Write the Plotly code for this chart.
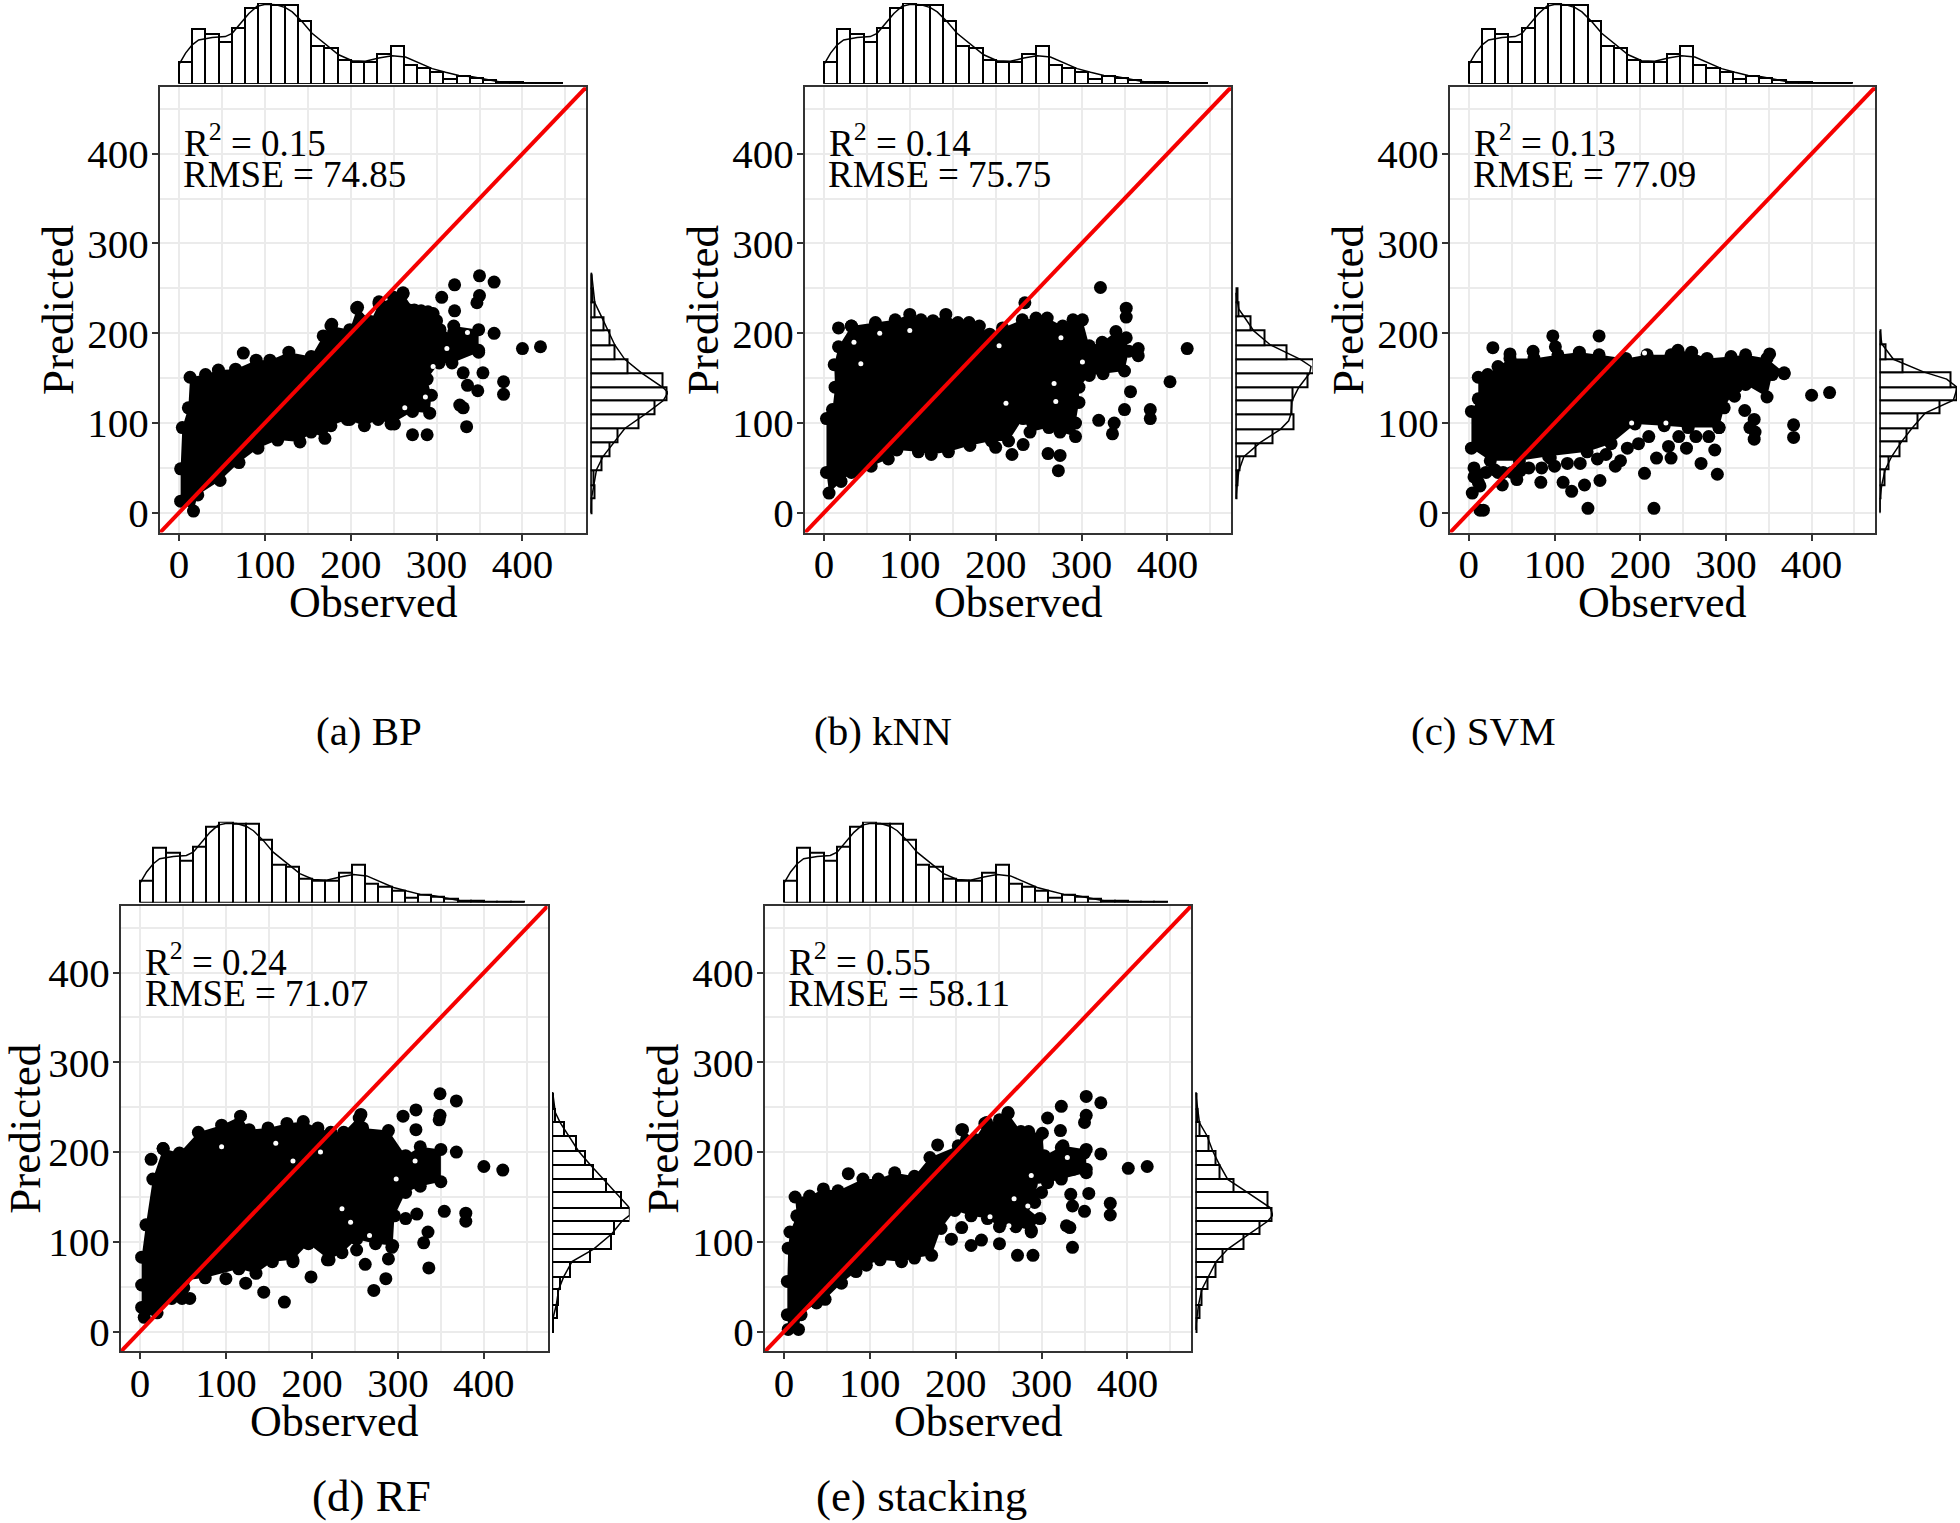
import numpy as np
import plotly.graph_objects as go

FONT = "Liberation Serif"
W, H = 1960, 1523

# shared observed histogram (same in every panel)
obs_bin = 15.4
obs_counts = [66, 165, 150, 126, 168, 229, 244, 239, 239, 190, 115, 110, 71, 65, 65, 90, 115, 58, 48, 36,
              16, 25, 18, 10, 6, 5, 3, 1, 1]
obs_dens_x = [0, 7.8, 15.5, 23, 38.8, 54, 62, 71.8, 81.5, 91, 101, 112.6, 124, 132, 143.6, 155, 171, 186, 201.8,
              217, 232.8, 248.3, 263.8, 279, 295, 310.5, 326, 341.6, 357, 372.6, 394, 411.4, 447]
obs_dens_v = [58, 93, 118, 133, 140, 143, 153, 183, 213, 235, 241, 240, 231, 218, 188, 153, 118, 88, 70,
              68, 78, 85, 81, 63, 46, 35, 25, 21, 13, 6, 3, 2, 0]

identity = [-22, 474]
ticks = [0, 100, 200, 300, 400]

# outline of the dense cloud + the separate points
a_edge_x = [17, 22, 48, 70, 92, 115, 141, 154, 170, 177, 196, 216, 232, 247, 272, 292, 294, 289, 303, 318, 349,
            349, 320, 309, 296, 274, 261, 250, 233, 223, 208, 199, 177, 168, 154, 128, 106, 90, 66, 46, 31, 13,
            11, 4, 2, 2]
a_edge_y = [2, 20, 36, 56, 72, 81, 79, 90, 83, 97, 104, 97, 104, 99, 113, 111, 131, 149, 167, 167, 179,
            204, 208, 195, 222, 226, 244, 240, 233, 213, 229, 204, 208, 197, 174, 179, 170, 170, 160, 159, 154, 151,
            117, 95, 49, 13]
a_out_x = [75, 178, 207, 233, 261, 256, 306, 321, 350, 367, 350, 347, 321, 367, 400, 421, 354, 378, 378, 348, 336,
           331, 327, 331, 335, 272, 289, 251, 199, 320, 349, 282, 290, 300, 304, 268]
a_out_y = [178, 210, 228, 235, 245, 238, 240, 254, 264, 257, 242, 234, 225, 200, 183, 185, 156, 146, 132, 136, 142,
           156, 120, 117, 96, 87, 87, 99, 104, 201, 181, 225, 224, 214, 204, 226]
a_hole_x = [336, 296, 263, 287, 312]
a_hole_y = [201, 163, 117, 129, 183]

b_edge_x = [6, 3, 3, 10, 13, 12, 17, 32, 60, 83, 100, 113, 127, 142, 156, 169, 181, 193, 208, 231, 247, 260, 278,
            290, 301, 309, 324, 340, 352, 355, 350, 325, 309, 297, 297, 293, 293, 275, 262, 240, 232, 215, 195, 170,
            145, 125, 110, 85, 75, 55, 40, 32, 20]
b_edge_y = [22, 45, 105, 115, 140, 165, 185, 208, 212, 215, 221, 215, 214, 221, 212, 212, 208, 199, 206, 215, 217, 217, 208,
            215, 215, 186, 190, 202, 195, 180, 158, 155, 153, 140, 123, 100, 85, 90, 95, 90, 105, 80, 80, 75,
            68, 65, 68, 70, 60, 52, 48, 45, 35]
b_out_x = [17, 32, 234, 322, 352, 352, 366, 366, 403, 423, 380, 380, 336, 320, 338, 357, 350, 200, 219, 273, 261, 275, 232]
b_out_y = [206, 208, 234, 251, 228, 218, 183, 175, 146, 183, 115, 105, 88, 103, 100, 135, 115, 73, 65, 47, 66, 64, 76]
b_hole_x = [43, 100, 204, 212, 268, 270, 276, 301, 35, 65]
b_hole_y = [166, 203, 186, 122, 144, 124, 195, 168, 190, 200]

c_edge_x = [25, 59, 93, 138, 166, 194, 228, 256, 292, 298, 312, 323, 348, 354, 368, 348, 323, 306, 278, 260, 244,
            236, 208, 183, 152, 129, 104, 76, 48, 34, 22, 11, 11, 3, 3]
c_edge_y = [58, 58, 63, 68, 77, 99, 97, 95, 95, 117, 140, 143, 129, 154, 156, 172, 176, 174, 172, 179, 181,
            176, 176, 172, 176, 179, 176, 172, 172, 163, 154, 151, 127, 113, 72]
c_out_x = [28, 48, 75, 98, 101, 152, 351, 368, 400, 421, 379, 379, 322, 333, 334, 333, 328, 292, 287, 290, 271, 254,
           236, 219, 233, 198, 205, 216, 139, 120, 153, 135, 110, 84, 95, 171, 177, 39, 56, 34, 17, 4, 10, 11, 13,
           6, 6, 13, 20, 30, 40, 50, 60, 70, 85, 100, 115, 130, 150, 160, 185, 210, 245, 265, 280, 310]
c_out_y = [184, 177, 180, 197, 185, 197, 177, 155, 131, 134, 98, 84, 114, 104, 90, 82, 95, 95, 70, 43, 55, 72,
           61, 61, 74, 77, 44, 5, 5, 24, 36, 31, 34, 34, 61, 52, 58, 31, 37, 45, 3, 22, 43, 34, 3,
           40, 50, 30, 45, 48, 45, 45, 47, 50, 50, 52, 55, 55, 60, 65, 72, 85, 85, 85, 85, 130]
c_hole_x = [205, 190, 230]
c_hole_y = [178, 100, 100]

d_edge_x = [5, 20, 37, 51, 76, 115, 135, 154, 178, 196, 220, 235, 252, 274, 294, 296, 309, 326, 350, 350, 326, 309,
            289, 259, 257, 237, 222, 207, 190, 171, 149, 127, 117, 95, 68, 46, 27, 15, 7, 2, 2, 2]
d_edge_y = [16, 21, 37, 57, 60, 70, 65, 78, 80, 98, 80, 88, 103, 98, 96, 129, 155, 162, 167, 203, 206, 196,
            224, 227, 242, 222, 222, 227, 234, 232, 227, 225, 240, 230, 222, 199, 204, 170, 119, 83, 52, 27]
d_out_x = [13, 27, 100, 123, 144, 168, 199, 178, 218, 252, 262, 272, 286, 289, 293, 336, 330, 335, 309, 322, 354, 379,
           379, 400, 422, 368, 349, 368, 349, 348, 321, 321, 306, 255, 49, 58, 51]
d_out_y = [192, 204, 59, 54, 44, 33, 61, 78, 80, 91, 75, 46, 59, 81, 94, 71, 99, 111, 126, 131, 134, 132,
           123, 184, 180, 200, 265, 257, 241, 236, 247, 225, 240, 238, 37, 37, 49]
d_hole_x = [95, 158, 178, 235, 245, 267, 210, 298, 320]
d_hole_y = [206, 210, 190, 137, 122, 107, 200, 170, 190]

e_edge_x = [5, 17, 20, 38, 48, 67, 84, 96, 112, 137, 152, 172, 183, 199, 218, 237, 251, 270, 288, 298, 280, 292, 300,
            288, 307, 323, 352, 352, 325, 303, 301, 276, 261, 251, 234, 222, 208, 203, 170, 152, 129, 110, 92, 63, 46,
            30, 13, 15, 7, 5, 4, 4]
e_edge_y = [2.5, 2.5, 19, 32, 36, 54, 67, 74, 80, 78, 82, 85, 115, 135, 129, 126, 117, 117, 113, 126, 140, 144, 155,
            164, 166, 170, 177, 203, 207, 196, 221, 223, 243, 236, 232, 214, 225, 207, 194, 173, 177, 170, 170, 157, 159,
            151, 150, 129, 111, 93, 56, 19]
e_out_x = [75, 179, 207, 236, 261, 307, 323, 352, 369, 352, 350, 322, 369, 401, 423, 355, 380, 380, 350, 336, 334, 329,
           333, 336, 272, 290, 251, 195, 218, 230, 207, 288, 323, 350, 352, 337, 323, 307, 285, 295]
e_out_y = [176, 208, 225, 233, 244, 238, 251, 262, 255, 241, 233, 224, 198, 182, 184, 154, 143, 130, 134, 140, 153, 118,
           116, 94, 85, 85, 98, 103, 96, 102, 116, 111, 205, 199, 181, 181, 174, 168, 223, 215]
e_hole_x = [268, 284, 288, 330, 240, 262]
e_hole_y = [148, 140, 174, 194, 128, 118]

# right-hand histograms of the predicted values
a_bin_edges = [0, 16, 31, 47, 63, 79, 94, 110, 125, 140, 156, 171, 187, 203, 218, 234, 250, 265]
a_bin_counts = [3, 11, 8, 33, 58, 81, 143, 191, 228, 216, 111, 73, 56, 38, 13, 5, 3]
a_dens_y = [267.4, 234, 218.5, 202.6, 187, 171, 156, 139.6, 134, 124.8, 110.7, 94, 79, 63, 48, 31, 16, 0]
a_dens_v = [3, 13, 33, 53, 73, 103, 153, 218, 233, 218, 168, 103, 71, 38, 18, 10, 3, 0]

b_bin_edges = [16, 31, 47, 63, 78, 93, 110, 125, 140, 156, 171, 187, 203, 219, 234, 250]
b_bin_counts = [3, 5, 12, 60, 110, 173, 167, 170, 217, 233, 153, 88, 45, 10, 5]
b_dens_y = [245, 226.7, 219, 202.6, 187, 171, 163, 155.6, 139.6, 125, 110.7, 102.6, 93, 78.5, 62.6, 47, 31, 15.6]
b_dens_v = [1, 10, 25, 55, 105, 195, 227, 223, 190, 170, 167, 160, 135, 75, 25, 10, 5, 1]

c_bin_edges = [0, 16, 31, 48, 63, 80, 94, 111, 125, 140, 157, 171, 188, 203]
c_bin_counts = [1, 4, 14, 27, 60, 82, 114, 179, 230, 214, 70, 19, 2]
c_dens_y = [202.6, 188, 171, 157, 149, 139.6, 125.5, 111, 94, 79.6, 63, 48, 31.4, 15.6, 0.7]
c_dens_v = [2, 7, 42, 132, 202, 234, 222, 137, 97, 67, 37, 17, 7, 1, 0]

d_bin_edges = [0, 15, 30, 47, 61, 78, 92, 109, 123, 138, 155, 170, 186, 201, 218, 233, 248, 265]
d_bin_counts = [3, 15, 18, 23, 53, 113, 177, 187, 233, 207, 163, 122, 98, 73, 35, 10, 3]
d_dens_y = [266.7, 244, 232.6, 218, 201, 186, 169.6, 155, 138, 129.6, 123, 109, 92, 78, 61, 47, 30, 15, 2]
d_dens_v = [2, 10, 25, 50, 80, 115, 155, 190, 233, 233, 210, 180, 125, 60, 35, 20, 13, 3, 0]

e_bin_edges = [0, 15, 30, 47, 61, 78, 92, 109, 123, 138, 155, 170, 186, 201, 218, 233, 248, 265]
e_bin_counts = [3, 12, 19, 35, 59, 82, 144, 192, 229, 217, 114, 72, 59, 39, 12, 7, 3]
e_dens_y = [266.7, 244, 232.6, 218, 201, 186, 169.6, 155, 138, 129.6, 123, 109, 92, 78, 61, 47, 30, 15, 2]
e_dens_v = [0, 7, 12, 35, 52, 72, 97, 157, 225, 232, 217, 162, 97, 62, 37, 19, 9, 5, 0]

r2_text = ["0.15", "0.14", "0.13", "0.24", "0.55"]
rmse_text = ["74.85", "75.75", "77.09", "71.07", "58.11"]
captions = ["(a) BP", "(b) kNN", "(c) SVM", "(d) RF", "(e) stacking"]
caption_px = [(369, 733), (883, 733), (1483, 733), (371, 1500), (921, 1500)]
caption_size = [41, 41, 41, 45, 45]

frames = [(160, 586, 87.5, 534), (805, 1231, 87.5, 534), (1450, 1875, 87.5, 534),
          (121, 547.5, 908.5, 1355), (765, 1191, 908.5, 1355)]
edges = [(a_edge_x, a_edge_y), (b_edge_x, b_edge_y), (c_edge_x, c_edge_y), (d_edge_x, d_edge_y), (e_edge_x, e_edge_y)]
outs = [(a_out_x, a_out_y), (b_out_x, b_out_y), (c_out_x, c_out_y), (d_out_x, d_out_y), (e_out_x, e_out_y)]
holes = [(a_hole_x, a_hole_y), (b_hole_x, b_hole_y), (c_hole_x, c_hole_y), (d_hole_x, d_hole_y), (e_hole_x, e_hole_y)]
bins = [(a_bin_edges, a_bin_counts), (b_bin_edges, b_bin_counts), (c_bin_edges, c_bin_counts),
        (d_bin_edges, d_bin_counts), (e_bin_edges, e_bin_counts)]
dens = [(a_dens_y, a_dens_v), (b_dens_y, b_dens_v), (c_dens_y, c_dens_v), (d_dens_y, d_dens_v), (e_dens_y, e_dens_v)]


def px_x(v):
    return v / W


def px_y(v):
    return 1 - v / H


fig = go.Figure()
layout = {}
axis_font = dict(family=FONT, size=41, color="black")
title_font = dict(family=FONT, size=45, color="black")
hidden = dict(visible=False, fixedrange=True)
MARK = 13

for i, (l, r, t, b) in enumerate(frames):
    n = 3 * i + 1
    mx, my = f"x{n}", f"y{n}"
    tx, ty = f"x{n + 1}", f"y{n + 1}"
    rx, ry = f"x{n + 2}", f"y{n + 2}"
    main_axis = dict(range=identity, tickvals=ticks, ticks="outside", ticklen=6, tickwidth=1.5, tickcolor="#333333",
                     tickfont=axis_font, showline=True, mirror=True, linecolor="#333333", linewidth=2,
                     showgrid=True, gridcolor="#ebebeb", gridwidth=2, zeroline=False,
                     minor=dict(tickvals=[50, 150, 250, 350, 450], showgrid=True, gridcolor="#ebebeb", gridwidth=1.5))
    layout[f"xaxis{n}"] = dict(main_axis, domain=[px_x(l), px_x(r)], anchor=my, ticklabelstandoff=-12)
    layout[f"yaxis{n}"] = dict(main_axis, domain=[px_y(b), px_y(t)], anchor=mx, ticklabelstandoff=-5,
                               title=dict(text="Predicted", font=title_font, standoff=0))
    layout[f"xaxis{n + 1}"] = dict(hidden, range=identity, domain=[px_x(l), px_x(r)], anchor=ty)
    layout[f"yaxis{n + 1}"] = dict(hidden, range=[0, 245], domain=[px_y(t - 3.5), px_y(t - 84.5)], anchor=tx)
    layout[f"xaxis{n + 2}"] = dict(hidden, range=[0, 233], domain=[px_x(r + 4.5), px_x(r + 82)], anchor=ry)
    layout[f"yaxis{n + 2}"] = dict(hidden, range=identity, domain=[px_y(b), px_y(t)], anchor=rx)

    # scatter: cloud outline filled, small gaps in the cloud, then separate points
    fig.add_trace(go.Scatter(x=edges[i][0], y=edges[i][1], mode="markers", fill="toself", fillcolor="black",
                             marker=dict(color="black", size=MARK), xaxis=mx, yaxis=my, showlegend=False))
    fig.add_trace(go.Scatter(x=holes[i][0], y=holes[i][1], mode="markers",
                             marker=dict(color="white", size=5), xaxis=mx, yaxis=my, showlegend=False))
    fig.add_trace(go.Scatter(x=outs[i][0], y=outs[i][1], mode="markers",
                             marker=dict(color="black", size=MARK), xaxis=mx, yaxis=my, showlegend=False))
    fig.add_trace(go.Scatter(x=identity, y=identity, mode="lines", line=dict(color="#f50000", width=4),
                             xaxis=mx, yaxis=my, showlegend=False))

    # top histogram
    centers = (np.arange(len(obs_counts)) + 0.5) * obs_bin
    fig.add_trace(go.Bar(x=centers, y=obs_counts, width=obs_bin, marker=dict(color="white", line=dict(color="black", width=2)),
                         xaxis=tx, yaxis=ty, showlegend=False, cliponaxis=False))
    fig.add_trace(go.Scatter(x=obs_dens_x, y=obs_dens_v, mode="lines", line=dict(color="black", width=1.5),
                             xaxis=tx, yaxis=ty, showlegend=False, cliponaxis=False))
    fig.add_trace(go.Scatter(x=[0, 447], y=[0, 0], mode="lines", line=dict(color="black", width=1.5),
                             xaxis=tx, yaxis=ty, showlegend=False, cliponaxis=False))

    # right histogram
    be = np.array(bins[i][0], dtype=float)
    fig.add_trace(go.Bar(y=(be[:-1] + be[1:]) / 2, x=bins[i][1], width=np.diff(be), orientation="h",
                         marker=dict(color="white", line=dict(color="black", width=2)),
                         xaxis=rx, yaxis=ry, showlegend=False, cliponaxis=False))
    fig.add_trace(go.Scatter(y=dens[i][0], x=dens[i][1], mode="lines", line=dict(color="black", width=1.5),
                             xaxis=rx, yaxis=ry, showlegend=False, cliponaxis=False))
    fig.add_trace(go.Scatter(y=[dens[i][0][0], dens[i][0][-1]], x=[0, 0], mode="lines", line=dict(color="black", width=2.5),
                             xaxis=rx, yaxis=ry, showlegend=False, cliponaxis=False))

annotations = []
for i, (l, r, t, b) in enumerate(frames):
    n = 3 * i + 1
    annotations.append(dict(text=f"R<sup>2</sup> = {r2_text[i]}", xref=f"x{n}", yref=f"y{n}", x=4, y=386,
                            xanchor="left", yanchor="bottom", showarrow=False, font=dict(family=FONT, size=37, color="black")))
    annotations.append(dict(text=f"RMSE = {rmse_text[i]}", xref=f"x{n}", yref=f"y{n}", x=3, y=377,
                            xanchor="left", yanchor="middle", showarrow=False, font=dict(family=FONT, size=37, color="black")))
    annotations.append(dict(text="Observed", xref="paper", yref="paper", x=px_x((l + r) / 2), y=px_y(b + 70),
                            xanchor="center", yanchor="middle", showarrow=False,
                            font=dict(family=FONT, size=44, color="black")))
    annotations.append(dict(text=captions[i], xref="paper", yref="paper", x=px_x(caption_px[i][0]), y=px_y(caption_px[i][1]),
                            xanchor="center", yanchor="middle", showarrow=False,
                            font=dict(family=FONT, size=caption_size[i], color="black")))

fig.update_layout(width=W, height=H, margin=dict(l=0, r=0, t=0, b=0), plot_bgcolor="white", paper_bgcolor="white",
                  barmode="overlay", bargap=0, annotations=annotations, font=dict(family=FONT), **layout)

# page body has an 8 px margin by default, the figure fills the whole window here
fig.write_html("out.html", config={"displayModeBar": False}, post_script="document.body.style.margin='0';")
